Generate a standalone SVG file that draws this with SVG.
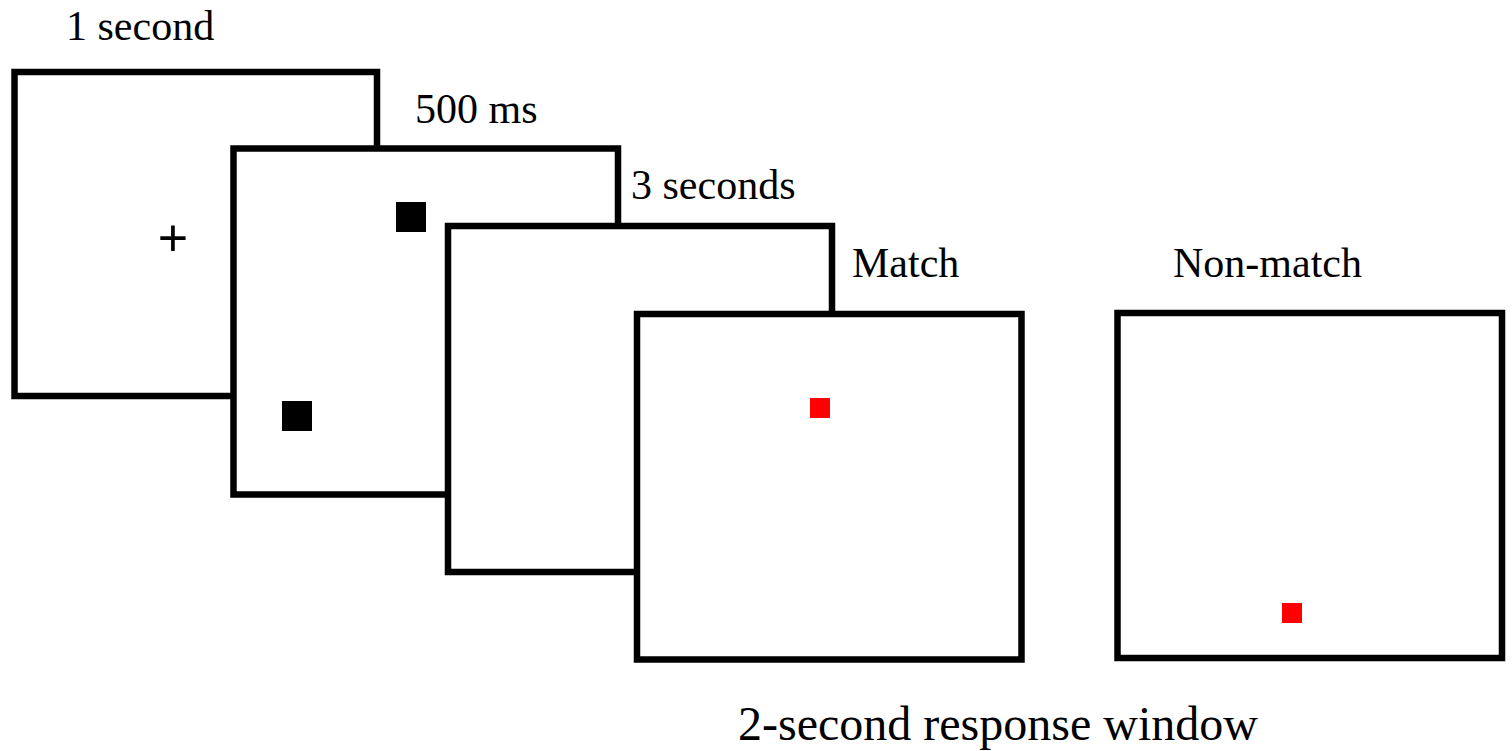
<svg xmlns="http://www.w3.org/2000/svg" width="1512" height="751" viewBox="0 0 1512 751">
  <style>
    .frame { fill: #ffffff; stroke: #000000; stroke-width: 6.5; }
    .label { font-family: "Liberation Serif", "Times New Roman", serif; font-size: 42px; fill: #000000; }
    .caption { font-family: "Liberation Serif", "Times New Roman", serif; font-size: 48px; fill: #000000; }
    .cross { font-family: "Liberation Sans", Arial, sans-serif; font-size: 52px; fill: #000000; }
    .probe { fill: #000000; }
    .target { fill: #ff0000; }
  </style>
  <rect width="1512" height="751" fill="#ffffff"/>

  <!-- fixation screen -->
  <g id="fixation">
    <rect class="frame" x="14.5" y="72" width="362.5" height="324"/>
    <text class="cross" x="173" y="255.5" text-anchor="middle">+</text>
    <text class="label" x="66" y="40">1 second</text>
  </g>

  <!-- sample display with two black squares -->
  <g id="sample">
    <rect class="frame" x="233.5" y="148.5" width="384.5" height="346"/>
    <rect class="probe" x="396" y="202" width="30" height="30"/>
    <rect class="probe" x="282" y="401" width="30" height="30"/>
    <text class="label" x="415" y="123">500 ms</text>
  </g>

  <!-- blank delay screen -->
  <g id="delay">
    <rect class="frame" x="448" y="226" width="384" height="346"/>
    <text class="label" x="631" y="199">3 seconds</text>
  </g>

  <!-- match probe -->
  <g id="match">
    <rect class="frame" x="637" y="314" width="384.5" height="345.5"/>
    <rect class="target" x="810" y="398" width="20" height="20"/>
    <text class="label" x="852" y="277">Match</text>
  </g>

  <!-- non-match probe -->
  <g id="nonmatch">
    <rect class="frame" x="1117.5" y="313" width="384.5" height="345"/>
    <rect class="target" x="1282" y="603" width="20" height="20"/>
    <text class="label" x="1173" y="277">Non-match</text>
  </g>

  <g id="connectors"></g>

  <text class="caption" x="738" y="740">2-second response window</text>
</svg>
